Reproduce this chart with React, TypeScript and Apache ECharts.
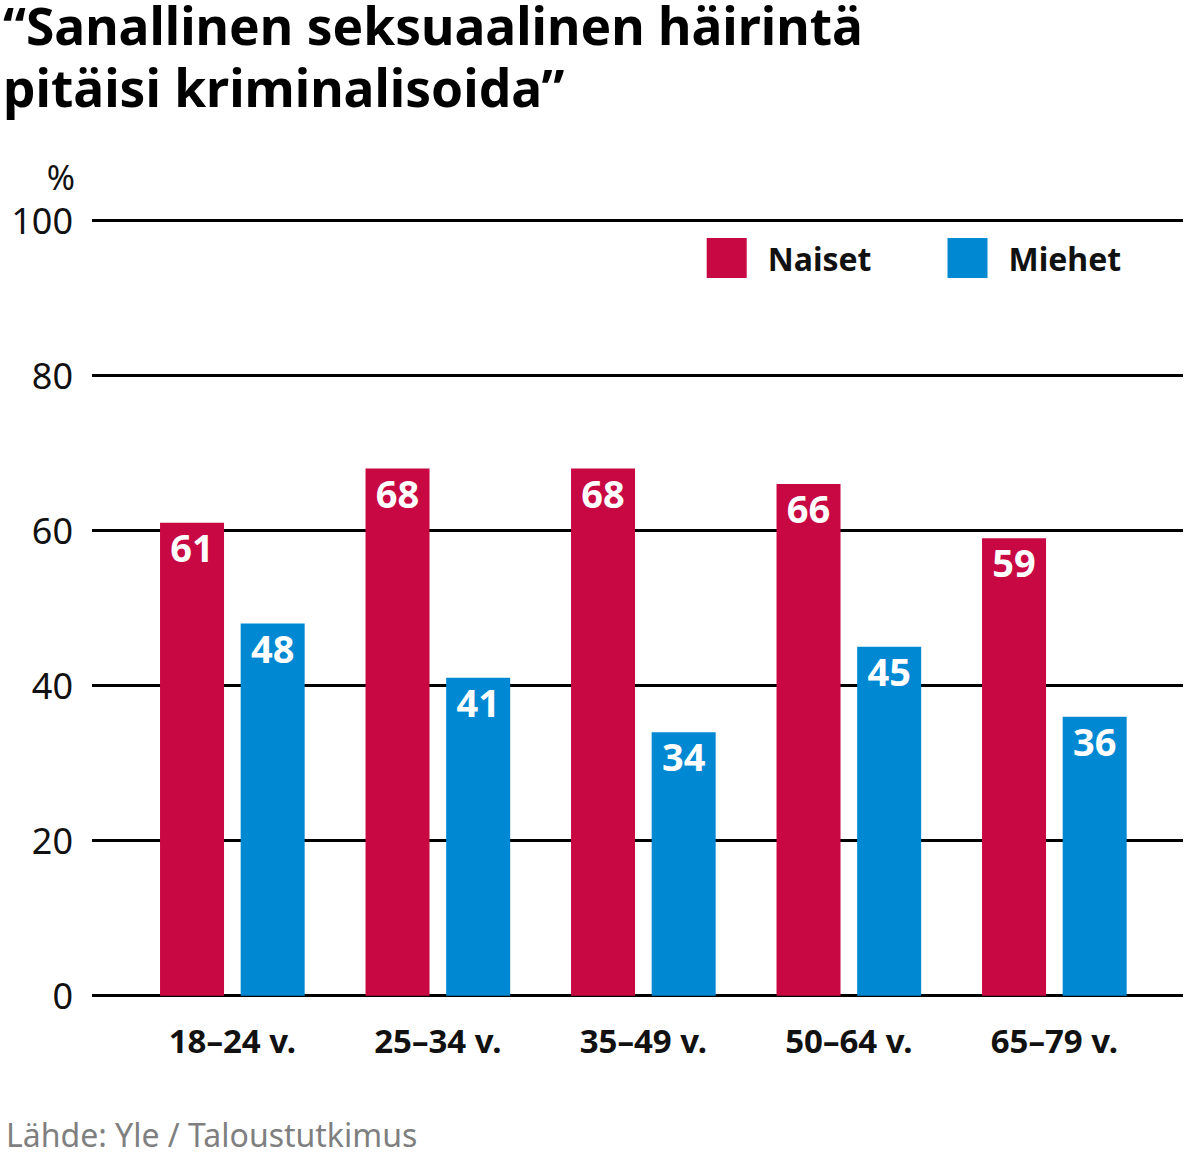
import * as echarts from "echarts"
import { useEffect, useRef } from "react"

const ageGroups = ["18–24 v.", "25–34 v.", "35–49 v.", "50–64 v.", "65–79 v."]
const naiset = [61, 68, 68, 66, 59]
const miehet = [48, 41, 34, 45, 36]
const yTicks = [0, 20, 40, 60, 80, 100]

const RED = "#c80843"
const BLUE = "#0088d2"
const FONT = "'Noto Sans', sans-serif"

export default function App() {
  const ref = useRef<HTMLDivElement>(null)

  useEffect(() => {
    document.body.style.margin = "0"
    if (!ref.current) return
    const chart = echarts.init(ref.current, null, { renderer: "svg" })

    const plotTop = 220.5
    const plotBottom = 160.3
    const titleStyle = { fontSize: 51.5, fontWeight: "bold", color: "#000", lineHeight: 52, fontFamily: FONT }

    chart.setOption({
      animation: false,
      textStyle: { fontFamily: FONT },
      // two-line heading: first line as text, second as subtext so each line keeps its own box
      title: {
        text: "“Sanallinen seksuaalinen häirintä",
        subtext: "pitäisi kriminalisoida”",
        left: 3,
        top: -1,
        padding: 0,
        itemGap: 10,
        textStyle: titleStyle,
        subtextStyle: titleStyle,
      },
      legend: {
        left: 706.7,
        top: 238,
        padding: 0,
        itemWidth: 40,
        itemHeight: 40,
        itemGap: 76,
        icon: "rect",
        textStyle: { fontSize: 32, fontWeight: "bold", color: "#111", padding: [0, 0, 0, 16], fontFamily: FONT },
        data: ["Naiset", "Miehet"],
      },
      grid: [
        { left: 92, right: 16, top: plotTop, bottom: plotBottom },
        { left: 129.6, right: 41.9, top: plotTop, bottom: plotBottom },
      ],
      xAxis: [
        { gridIndex: 0, type: "category", data: ageGroups, show: false },
        {
          gridIndex: 1,
          type: "category",
          data: ageGroups,
          axisLine: { show: false },
          axisTick: { show: false },
          axisLabel: { fontSize: 33, fontWeight: "bold", color: "#111", margin: 28 },
        },
      ],
      yAxis: [
        {
          gridIndex: 0,
          type: "value",
          min: yTicks[0],
          max: yTicks[yTicks.length - 1],
          interval: yTicks[1] - yTicks[0],
          axisLine: { show: false },
          axisTick: { show: false },
          axisLabel: { fontSize: 36, color: "#111", margin: 19 },
          splitLine: { lineStyle: { color: "#000", width: 3 } },
        },
        { gridIndex: 1, type: "value", min: 0, max: 100, show: false },
      ],
      graphic: [
        {
          type: "text",
          right: 1199 - 75,
          top: 160,
          style: { text: "%", fontSize: 34, fill: "#111", fontFamily: FONT },
        },
        {
          type: "text",
          left: 6,
          top: 1118,
          style: { text: "Lähde: Yle / Taloustutkimus", fontSize: 32, fill: "#7f7f7f", fontFamily: FONT },
        },
      ],
      series: [
        {
          name: "Naiset",
          type: "bar",
          xAxisIndex: 1,
          yAxisIndex: 1,
          data: naiset,
          barWidth: 64,
          barGap: "26%",
          itemStyle: { color: RED },
          label: { show: true, position: "insideTop", distance: 5, color: "#fff", fontSize: 38, fontWeight: "bold" },
        },
        {
          name: "Miehet",
          type: "bar",
          xAxisIndex: 1,
          yAxisIndex: 1,
          data: miehet,
          barWidth: 64,
          itemStyle: { color: BLUE },
          label: { show: true, position: "insideTop", distance: 5, color: "#fff", fontSize: 38, fontWeight: "bold" },
        },
      ],
    })

    return () => chart.dispose()
  }, [])

  return <div ref={ref} style={{ width: 1199, height: 1156, background: "#fff" }} />
}
